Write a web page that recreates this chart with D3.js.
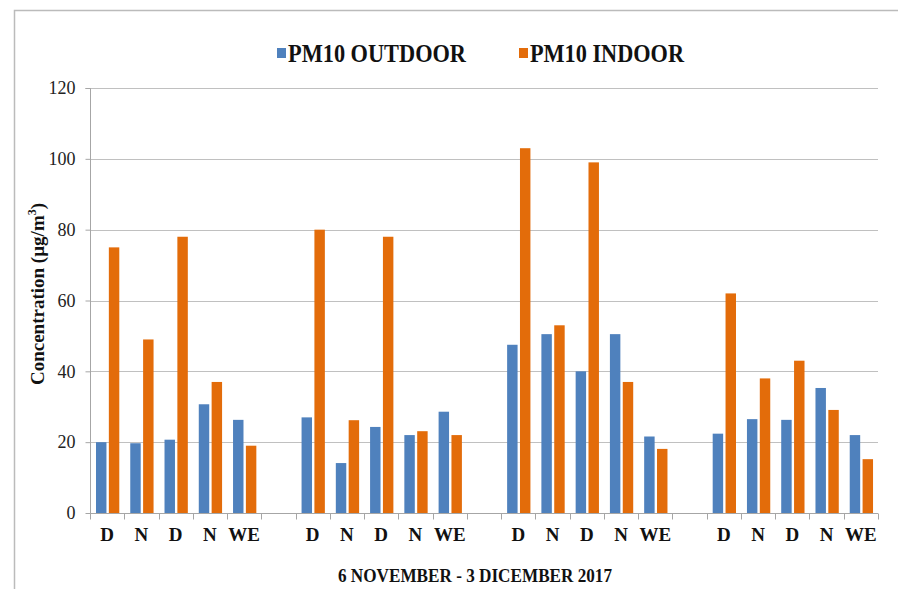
<!DOCTYPE html>
<html><head><meta charset="utf-8">
<script src="https://cdn.jsdelivr.net/npm/d3@7"></script>
<style>body{margin:0;background:#fff}svg{display:block}</style>
</head><body>
<script>
const categories = ["D","N","D","N","WE","g1","D","N","D","N","WE","g2","D","N","D","N","WE","g3","D","N","D","N","WE"];
const outdoor = [20,19.7,20.7,30.7,26.3,null,27,14.1,24.3,22,28.6,null,47.5,50.5,40,50.5,21.6,null,22.4,26.5,26.3,35.3,22];
const indoor  = [75,49,78,37,19,null,80,26.2,78,23.1,22,null,103,53,99,37,18.1,null,62,38,43,29.1,15.2];
const seriesNames = ["PM10 OUTDOOR","PM10 INDOOR"];
const yTicks = [0,20,40,60,80,100,120];
const xTitle = "6 NOVEMBER - 3 DICEMBER 2017";

const FONT="'Liberation Serif'";
const W=898,H=589;
const colors=["#4f81bd","#e36c0a"];
const svg=d3.select("body").append("svg").attr("width",W).attr("height",H);
// frame
svg.append("path").attr("d","M14.5,"+H+" V10.5 H"+W).attr("fill","none").attr("stroke","#bbb").attr("stroke-width",1.5);

const pL=90,pR=878,pT=88,pB=513;
const x=d3.scaleBand().domain(d3.range(categories.length)).range([pL,pR]).padding(0);
const y=d3.scaleLinear().domain([0,120]).range([pB,pT]);

const g=svg.append("g");
// grid
g.selectAll(".grid").data(yTicks.filter(t=>t>0)).join("line")
 .attr("x1",pL).attr("x2",pR).attr("y1",d=>Math.round(y(d))+0.5).attr("y2",d=>Math.round(y(d))+0.5)
 .attr("stroke","#c0c0c0").attr("stroke-width",1);

// y axis
const ya=svg.append("g").attr("transform","translate("+(pL+0.5)+",0)")
 .call(d3.axisLeft(y).tickValues(yTicks).tickSize(5).tickPadding(10));
ya.select(".domain").attr("stroke","#a6a6a6").attr("d","M-5,"+(y(120)+0.5)+"H0V"+(pB+0.5));
ya.selectAll(".tick line").attr("stroke","#a6a6a6");
ya.selectAll("text").style("font-family",FONT).attr("font-size",18).attr("fill","#222");

// bars
const bw=x.bandwidth();
const barW=bw*0.305;
const sets=[outdoor,indoor];
sets.forEach((arr,si)=>{
  g.selectAll(".b"+si).data(arr.map((v,i)=>({v,i})).filter(d=>d.v!=null)).join("rect")
   .attr("x",d=>x(d.i)+bw*0.175+si*(barW+bw*0.07))
   .attr("width",barW)
   .attr("y",d=>y(d.v)).attr("height",d=>pB-y(d.v))
   .attr("fill",colors[si]);
});

// x axis
const xa=svg.append("g").attr("transform","translate(0,"+(pB+0.5)+")");
xa.append("line").attr("x1",pL).attr("x2",pR).attr("stroke","#a6a6a6");
xa.selectAll(".tk").data(d3.range(categories.length+1)).join("line")
 .attr("x1",i=>Math.round(pL+i*bw)+0.5).attr("x2",i=>Math.round(pL+i*bw)+0.5)
 .attr("y1",0).attr("y2",6).attr("stroke","#a6a6a6");
xa.selectAll(".lb").data(categories.map((c,i)=>({c,i})).filter(d=>!d.c.startsWith("g"))).join("text")
 .attr("x",d=>x(d.i)+bw/2).attr("y",27).attr("text-anchor","middle")
 .style("font-family",FONT).attr("font-weight","bold").attr("font-size",19).attr("fill","#111")
 .text(d=>d.c);

// titles
svg.append("text").attr("x",475).attr("y",582).attr("text-anchor","middle")
 .style("font-family",FONT).attr("font-weight","bold").attr("font-size",18).attr("fill","#111")
 .attr("textLength",274).attr("lengthAdjust","spacingAndGlyphs")
 .text(xTitle);
const yt=svg.append("text").attr("transform","translate(44,294) rotate(-90)").attr("text-anchor","middle")
 .style("font-family",FONT).attr("font-weight","bold").attr("font-size",19).attr("fill","#111");
yt.append("tspan").text("Concentration (µg/m");
yt.append("tspan").attr("font-size",12).attr("dy",-8).text("3");
yt.append("tspan").attr("dy",8).text(")");

// legend
const legX=[277,519];
const legW=[178,154];
seriesNames.forEach((n,i)=>{
  svg.append("rect").attr("x",legX[i]).attr("y",48).attr("width",9).attr("height",10).attr("fill",colors[i]);
  svg.append("text").attr("x",legX[i]+11).attr("y",62).style("font-family",FONT)
   .attr("font-weight","bold").attr("font-size",25).attr("fill","#111")
   .attr("textLength",legW[i]).attr("lengthAdjust","spacingAndGlyphs").text(n);
});
</script>
</body></html>
